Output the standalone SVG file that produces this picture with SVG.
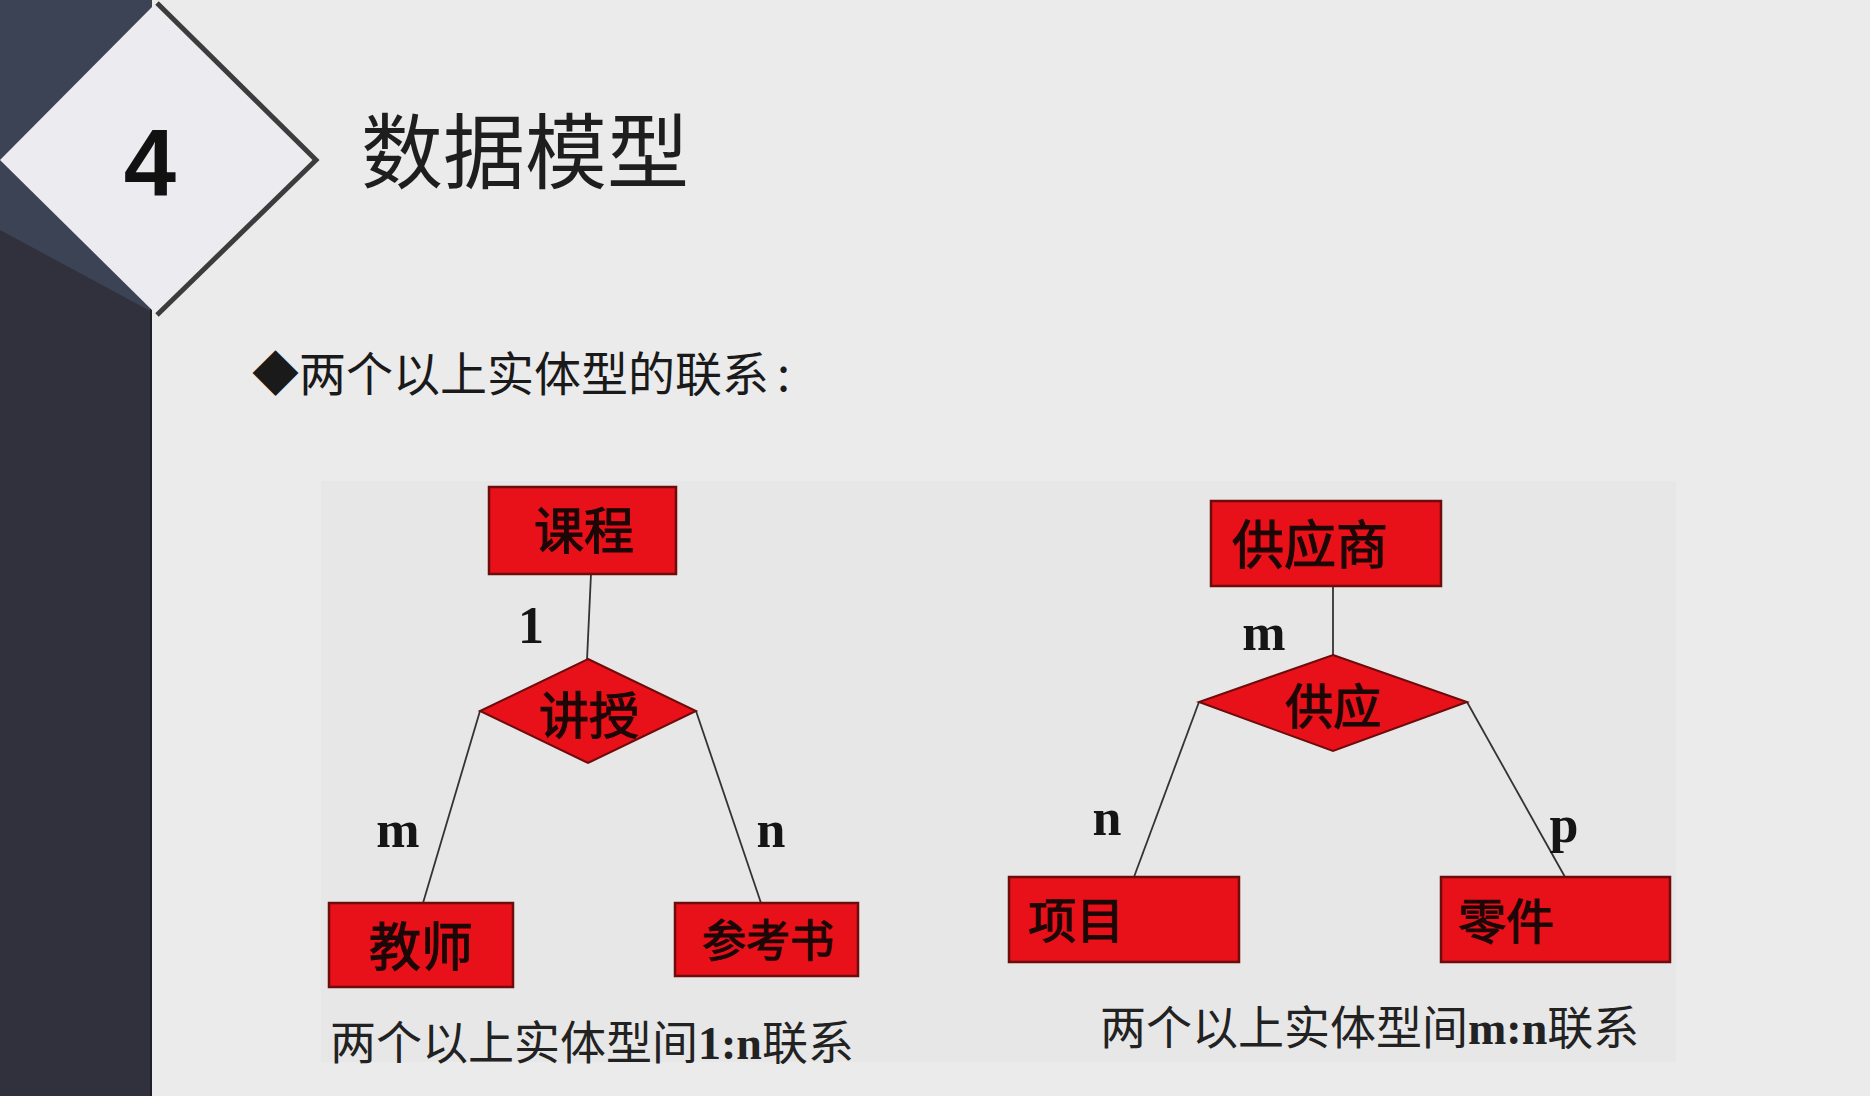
<svg xmlns="http://www.w3.org/2000/svg" width="1870" height="1096" viewBox="0 0 1870 1096">
<style>
.ent{fill:#e8111a;stroke:#6e0b0b;stroke-width:2.5}
.rel{fill:#e8111a;stroke:#6e0b0b;stroke-width:2}
.nt{font-family:"Liberation Serif","Noto Sans CJK SC",serif;font-weight:normal;fill:#1c0606;stroke:#1c0606;stroke-width:1.2}
.lbl{font-family:"Liberation Serif","Noto Sans CJK SC",serif;font-weight:bold;font-size:52px;fill:#151515;text-anchor:middle}
.cap{font-family:"Liberation Serif","Noto Sans CJK SC",serif;font-size:46px;fill:#222}
.cap tspan.b{font-weight:bold}
.conn line{stroke:#333;stroke-width:1.8}
</style>
<rect x="0" y="0" width="1870" height="1096" fill="#ebebeb"/>
<!-- sidebar -->
<rect x="0" y="0" width="152" height="1096" fill="#30313d"/>
<polygon points="0,0 152,0 152,312 0,230" fill="#3c4354"/>
<line x1="151" y1="300" x2="151" y2="1096" stroke="#1f2028" stroke-width="2"/>
<!-- header diamond -->
<g id="section-badge">
<polygon points="155,4 314,160 155,313 0,160" fill="#ececf0"/>
<polyline points="157,3 316,160 157,315" fill="none" stroke="#3c3c3c" stroke-width="5"/>
<text x="150" y="195" font-family="Liberation Sans, Arial, sans-serif" font-weight="bold" font-size="94" fill="#111" text-anchor="middle">4</text>
</g>
<text id="title" x="361" y="182" font-family="Noto Sans CJK SC, sans-serif" font-size="82" fill="#1e1e1e">数据模型</text>
<text id="bullet" x="252" y="391" font-family="Noto Sans CJK SC, sans-serif" font-size="47" fill="#1a1a1a">◆两个以上实体型的联系<tspan dx="8">:</tspan></text>
<!-- panel -->
<rect x="321" y="481" width="1355" height="581" fill="#e7e7e7"/>
<!-- connectors -->
<g id="connectors" class="conn">
<line x1="591" y1="574" x2="587" y2="660"/>
<line x1="480" y1="711" x2="423" y2="903"/>
<line x1="696" y1="711" x2="761" y2="903"/>
<line x1="1333" y1="586" x2="1333" y2="655"/>
<line x1="1199" y1="702" x2="1134" y2="877"/>
<line x1="1467" y1="702" x2="1565" y2="877"/>
</g>
<!-- left diagram -->
<g id="kecheng"><rect class="ent" x="489" y="487" width="187" height="87"/><text class="nt" x="584" y="549" font-size="50" text-anchor="middle">课程</text></g>
<g id="jiangshou"><polygon class="rel" points="588,659 696,711 588,763 480,711"/><text class="nt" x="589" y="734" font-size="50" text-anchor="middle">讲授</text></g>
<g id="jiaoshi"><rect class="ent" x="329" y="903" width="184" height="84"/><text class="nt" x="421" y="966" font-size="52" text-anchor="middle">教师</text></g>
<g id="cankaoshu"><rect class="ent" x="675" y="903" width="183" height="73"/><text class="nt" x="768" y="957" font-size="44" text-anchor="middle">参考书</text></g>
<text class="lbl" x="531" y="643">1</text>
<text class="lbl" x="398" y="847">m</text>
<text class="lbl" x="771" y="847">n</text>
<text class="cap" x="330" y="1059">两个以上实体型间<tspan class="b">1:n</tspan>联系</text>
<!-- right diagram -->
<g id="gongyingshang"><rect class="ent" x="1211" y="501" width="230" height="85"/><text class="nt" x="1310" y="564" font-size="52" text-anchor="middle">供应商</text></g>
<g id="gongying"><polygon class="rel" points="1333,655 1467,702 1333,751 1199,702"/><text class="nt" x="1333" y="724" font-size="48" text-anchor="middle">供应</text></g>
<g id="xiangmu"><rect class="ent" x="1009" y="877" width="230" height="85"/><text class="nt" x="1028" y="938" font-size="48">项目</text></g>
<g id="lingjian"><rect class="ent" x="1441" y="877" width="229" height="85"/><text class="nt" x="1458" y="939" font-size="48">零件</text></g>
<text class="lbl" x="1264" y="650">m</text>
<text class="lbl" x="1107" y="835">n</text>
<text class="lbl" x="1564" y="842">p</text>
<text class="cap" x="1100" y="1044">两个以上实体型间<tspan class="b">m:n</tspan>联系</text>
</svg>
